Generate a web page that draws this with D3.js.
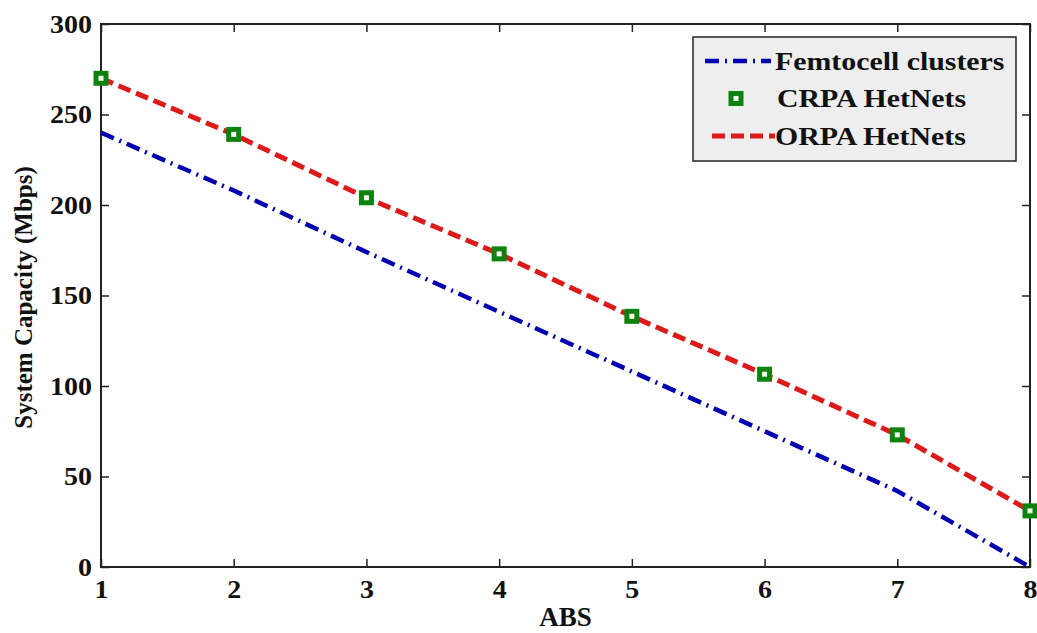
<!DOCTYPE html>
<html><head><meta charset="utf-8">
<script src="https://cdn.jsdelivr.net/npm/d3@7"></script>
<style>body{margin:0;background:#fff}</style>
</head><body>
<svg id="c" width="1037" height="633"></svg>
<script>
const absValues = [1,2,3,4,5,6,7,8];
const femtocell = [240, 208, 174, 141, 108, 75, 42, 0];
const crpa = [270, 239, 204, 173, 138.5, 106.5, 73, 31];
const orpa = [270, 239, 204, 173, 138.5, 106.5, 73, 31];
const yTicks = [0,50,100,150,200,250,300];
const seriesNames = ["Femtocell clusters","CRPA HetNets","ORPA HetNets"];

const svg = d3.select("#c");
const L=101, R=1030, T=24, B=567;
const x = d3.scaleLinear().domain([1,8]).range([L,R]);
const y = d3.scaleLinear().domain([0,300]).range([B,T]);
const font = "'Liberation Serif','Times New Roman',serif";
const stretch = (sel, s) => sel.each(function(){
  const t=d3.select(this); const tx=+t.attr("x")||0;
  t.attr("transform",`translate(${tx},0) scale(${s},1) translate(${-tx},0)`);
});

const g = svg.append("g");
g.append("rect").attr("x",L).attr("y",T).attr("width",R-L).attr("height",B-T)
 .attr("fill","none").attr("stroke","#222").attr("stroke-width",2);

const tl=8;
const xa = d3.axisBottom(x).tickValues(absValues).tickSize(-tl).tickPadding(0).tickFormat(d3.format("d"));
const ya = d3.axisLeft(y).tickValues(yTicks).tickSize(-tl).tickPadding(9);
const gx = g.append("g").attr("transform",`translate(0,${B})`).call(xa);
const gy = g.append("g").attr("transform",`translate(${L},0)`).call(ya);
const gxt = g.append("g").attr("transform",`translate(0,${T})`).call(d3.axisTop(x).tickValues(absValues).tickSize(-tl).tickFormat(""));
const gyr = g.append("g").attr("transform",`translate(${R},0)`).call(d3.axisRight(y).tickValues(yTicks).tickSize(-tl).tickFormat(""));
[gx,gy,gxt,gyr].forEach(a=>{a.select(".domain").remove();a.selectAll("line").attr("stroke","#222").attr("stroke-width",1.5);});
[gx,gy].forEach(a=>a.selectAll("text").attr("font-family",font).attr("font-weight","bold").attr("font-size",25).attr("fill","#111"));
gx.selectAll("text").attr("y",31).attr("dy",null);
gy.selectAll("text").attr("dy","0.33em");
stretch(gx.selectAll("text"),1.12);
stretch(gy.selectAll("text"),1.12);

// lines
const line = d3.line().x((d,i)=>x(absValues[i])).y(d=>y(d));
const blueDash="14,6,2,6", redDash="13,6";
g.append("path").datum(femtocell).attr("d",line).attr("fill","none")
 .attr("stroke","#0000b0").attr("stroke-width",4.5).attr("stroke-dasharray",blueDash);
g.append("path").datum(orpa).attr("d",line).attr("fill","none")
 .attr("stroke","#dd1a1a").attr("stroke-width",5).attr("stroke-dasharray",redDash);
g.selectAll("rect.m").data(crpa).enter().append("rect").attr("class","m")
 .attr("x",(d,i)=>x(absValues[i])-5).attr("y",d=>y(d)-5).attr("width",10).attr("height",10)
 .attr("fill","#f4f8ee").attr("stroke","#0e820e").attr("stroke-width",5);

// legend
const lg = g.append("g");
lg.append("rect").attr("x",693).attr("y",37).attr("width",323).attr("height",124)
 .attr("fill","#eeeeee").attr("stroke","#222").attr("stroke-width",1.5);
const rows=[61,98.5,136];
lg.append("line").attr("x1",705).attr("x2",771).attr("y1",rows[0]).attr("y2",rows[0])
 .attr("stroke","#0000b0").attr("stroke-width",4.5).attr("stroke-dasharray",blueDash);
lg.append("rect").attr("x",731).attr("y",rows[1]-5).attr("width",10).attr("height",10)
 .attr("fill","#f4f8ee").attr("stroke","#0e820e").attr("stroke-width",5);
lg.append("line").attr("x1",712).attr("x2",775).attr("y1",rows[2]).attr("y2",rows[2])
 .attr("stroke","#dd1a1a").attr("stroke-width",5).attr("stroke-dasharray",redDash);
const lt = lg.selectAll("text").data(seriesNames).enter().append("text")
 .attr("x",(d,i)=>i===1?777:775).attr("y",(d,i)=>rows[i]+9)
 .attr("font-family",font).attr("font-weight","bold").attr("font-size",25.5).attr("fill","#111")
 .text(d=>d);
stretch(lt,1.17);

// axis titles
g.append("text").attr("x",(L+R)/2).attr("y",626).attr("text-anchor","middle")
 .attr("font-family",font).attr("font-weight","bold").attr("font-size",27).attr("fill","#111").text("ABS");
g.append("text").attr("transform",`translate(32,${(T+B)/2+2}) rotate(-90)`).attr("text-anchor","middle")
 .attr("font-family",font).attr("font-weight","bold").attr("font-size",25).attr("fill","#111").text("System Capacity (Mbps)");
</script>
</body></html>
